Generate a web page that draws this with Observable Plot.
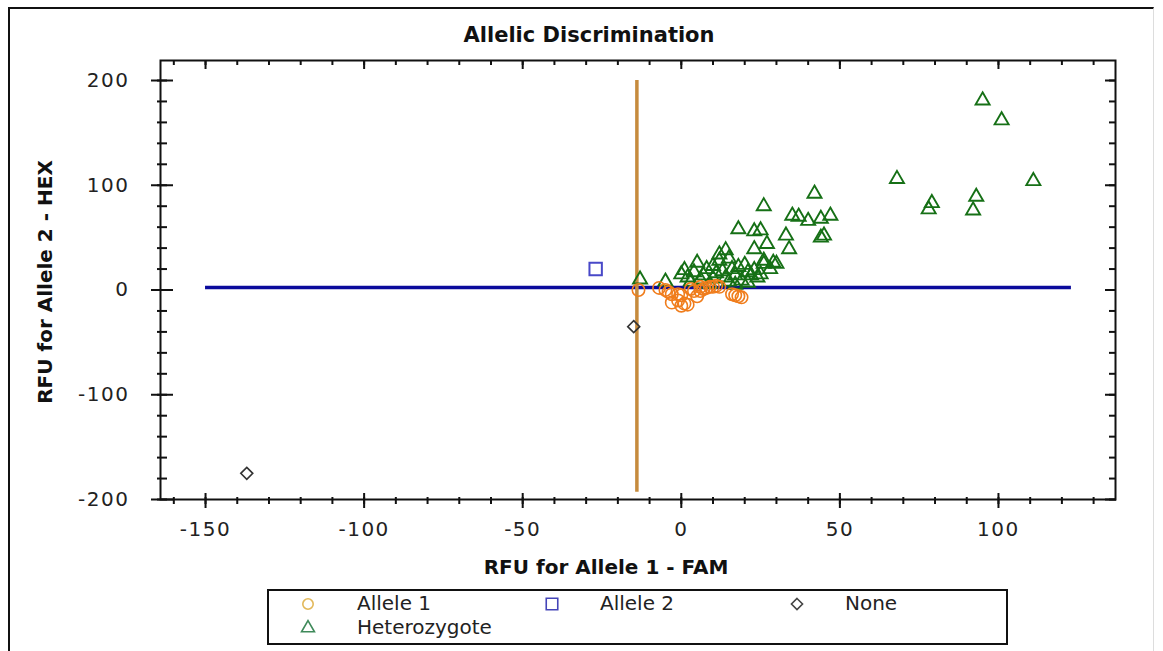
<!DOCTYPE html>
<html><head><meta charset="utf-8">
<script src="https://cdn.jsdelivr.net/npm/d3@7"></script>
<script src="https://cdn.jsdelivr.net/npm/@observablehq/plot@0.6"></script>
<style>
html,body{margin:0;padding:0;background:#fff;}
#wrap{position:relative;width:1163px;height:651px;overflow:hidden;font-family:"DejaVu Sans",sans-serif;color:#111;}
#wrap svg.plot{position:absolute;left:0;top:0;}
#wrap svg.plot g[aria-label$="tick label"] text{letter-spacing:1.5px;}
.border{position:absolute;left:8px;top:7px;width:1146px;height:650px;border-top:2px solid #111;border-left:2px solid #111;border-right:1px solid #ddd;box-sizing:border-box;}
.title{position:absolute;left:339px;width:500px;top:25px;text-align:center;font-weight:bold;font-size:21px;line-height:21px;}
.xtitle{position:absolute;left:406px;width:400px;top:557px;text-align:center;font-weight:bold;font-size:20px;line-height:20px;}
.ytitle{position:absolute;left:-105px;width:300px;top:272px;height:20px;text-align:center;font-weight:bold;font-size:20px;line-height:20px;transform:rotate(-90deg);transform-origin:50% 50%;}
.legend{position:absolute;left:267px;top:589px;width:741px;height:56px;border:2px solid #111;box-sizing:border-box;}
.li{position:absolute;font-size:20px;line-height:20px;white-space:nowrap;color:#222;}
.ls{position:absolute;}
</style></head><body><div id="wrap"><div class="border"></div></div>
<script>
// ---- data ----
const allele1X = [-13.5, -5, -7, -4, -3, -1, 0, -3, -1, 1, 0, 2, 3, 4, 5, 6, 6, 7, 8, 9, 10, 11, 12, 16, 17, 19, 18];
const allele1Y = [0, 0, 2, -2, -4, -4, -5, -12, -10, -13, -15, -14, 1, -1, -6, 3, -1, 1, 2, 3, 3, 4, 3, -4, -5, -7, -6];

const heteroX = [95, 101, 68, 111, 79, 78, 93, 92,
  42, 26, 35, 37, 40, 44, 47, 44, 45, 18, 23, 25, 33, 27, 23, 34, 14, 26, 30,
  -13, -5, 1, 5, 2, 0, 10, 12, 15, 12, 18, 21, 23, 26, 29, 17, 10, 7, 19, 14, 21, 8, 4, 24, 16, 20, 13, 9, 15, 22, 6, 11, 3, 17, 25, 28];
const heteroY = [181, 162, 106, 104, 83, 77, 89, 76,
  92, 80, 71, 70, 66, 68, 71, 50, 52, 58, 56, 57, 52, 44, 39, 39, 38, 25, 25,
  10, 8, 19, 26, 12, 15, 23, 28, 30, 34, 22, 17, 19, 28, 26, 14, 11, 14, 9, 12, 7, 20, 17, 12, 20, 24, 18, 6, 8, 14, 10, 16, 8, 5, 15, 20];

const allele2X = [-27];
const allele2Y = [20];

const noneX = [-137, -15];
const noneY = [-175, -35];

// threshold lines
const hetThresholdY = [2.5];
const hetThresholdXRange = [-150, 123];
const allele1ThresholdX = [-14];
const allele1ThresholdYRange = [-193, 200];

// axes
const xDomain = [-164.2, 136.9];
const yDomain = [-200, 219.1];
const xMajorTicks = [-150, -100, -50, 0, 50, 100];
const xMinorTicks = [-160, -150, -140, -130, -120, -110, -100, -90, -80, -70, -60, -50, -40, -30, -20, -10, 0, 10, 20, 30, 40, 50, 60, 70, 80, 90, 100, 110, 120, 130];
const yMajorTicks = [-200, -100, 0, 100, 200];
const yMinorTicks = [-200, -180, -160, -140, -120, -100, -80, -60, -40, -20, 0, 20, 40, 60, 80, 100, 120, 140, 160, 180, 200];

const titleText = "Allelic Discrimination";
const xTitle = "RFU for Allele 1 - FAM";
const yTitle = "RFU for Allele 2 - HEX";
const legendNames = ["Allele 1", "Allele 2", "None", "Heterozygote"];

// ---- build tables ----
const zip = (xs, ys) => xs.map((x, i) => ({x, y: ys[i]}));
const allele1 = zip(allele1X, allele1Y);
const hetero = zip(heteroX, heteroY);
const allele2 = zip(allele2X, allele2Y);
const none = zip(noneX, noneY);
const hLine = hetThresholdY.map(y => ({y, x1: hetThresholdXRange[0], x2: hetThresholdXRange[1]}));
const vLine = allele1ThresholdX.map(x => ({x, y1: allele1ThresholdYRange[0], y2: allele1ThresholdYRange[1]}));

const C = {a1: "#f07d1c", het: "#167016", a2: "#4848c8", none: "#333333", h: "#0a0a9c", v: "#c68b3d"};
const blank = () => "";
const tickStyle = {stroke: "#111", strokeWidth: 2, label: null, tickFormat: blank};

const chart = Plot.plot({
  width: 1163, height: 651,
  marginLeft: 160, marginRight: 48, marginTop: 60, marginBottom: 152,
  x: {domain: xDomain},
  y: {domain: yDomain},
  style: {fontFamily: "DejaVu Sans", fontSize: "20px", background: "transparent", color: "#222", overflow: "visible"},
  marks: [
    Plot.ruleY(hLine, {y: "y", x1: "x1", x2: "x2", stroke: C.h, strokeWidth: 3.5}),
    Plot.ruleX(vLine, {x: "x", y1: "y1", y2: "y2", stroke: C.v, strokeWidth: 3.5}),
    Plot.dot(hetero, {x: "x", y: "y", symbol: "triangle", r: 5.2, stroke: C.het, strokeWidth: 1.9, fill: "none"}),
    Plot.dot(allele1, {x: "x", y: "y", symbol: "circle", r: 6.2, stroke: C.a1, strokeWidth: 1.6, fill: "none"}),
    Plot.dot(allele2, {x: "x", y: "y", symbol: "square", r: 7, stroke: C.a2, strokeWidth: 2, fill: "none"}),
    Plot.dot(none, {x: "x", y: "y", symbol: "diamond2", r: 5.4, stroke: C.none, strokeWidth: 1.6, fill: "none"}),
    // bottom axis
    Plot.axisX({...tickStyle, anchor: "bottom", ticks: xMinorTicks, tickSize: 7, dy: -2}),
    Plot.axisX({...tickStyle, anchor: "bottom", ticks: xMajorTicks, tickSize: 15, dy: -6}),
    Plot.axisX({anchor: "bottom", ticks: xMajorTicks, tickSize: 0, tickPadding: 22, fontSize: 20, fill: "#222", label: null, tickFormat: d => String(d)}),
    // top axis
    Plot.axisX({...tickStyle, anchor: "top", ticks: xMinorTicks, tickSize: 5, dy: 4}),
    Plot.axisX({...tickStyle, anchor: "top", ticks: xMajorTicks, tickSize: 9, dy: 8}),
    // left axis
    Plot.axisY({...tickStyle, anchor: "left", ticks: yMinorTicks, tickSize: 10, dx: 7}),
    Plot.axisY({...tickStyle, anchor: "left", ticks: yMajorTicks, tickSize: 22, dx: 13}),
    Plot.axisY({anchor: "left", ticks: yMajorTicks, tickSize: 0, tickPadding: 31, fontSize: 20, fill: "#222", label: null, tickFormat: d => String(d)}),
    // right axis
    Plot.axisY({...tickStyle, anchor: "right", ticks: yMinorTicks, tickSize: 7, dx: -7}),
    Plot.axisY({...tickStyle, anchor: "right", ticks: yMajorTicks, tickSize: 11, dx: -11}),
    Plot.frame({stroke: "#111", strokeWidth: 2})
  ]
});
chart.classList.add("plot");
const wrap = document.getElementById("wrap");
wrap.appendChild(chart);

function addDiv(cls, text) {
  const d = document.createElement("div");
  d.className = cls; d.textContent = text; wrap.appendChild(d); return d;
}
addDiv("title", titleText);
addDiv("xtitle", xTitle);
addDiv("ytitle", yTitle);

// legend
const legend = document.createElement("div");
legend.className = "legend";
wrap.appendChild(legend);
const lx = 267, ly = 589;
const legendItems = [
  {name: legendNames[0], sym: d3.symbolCircle, r: 5.2, color: "#e2b85a", sx: 308, sy: 604, tx: 357},
  {name: legendNames[1], sym: d3.symbolSquare, r: 6.5, color: "#4444b8", sx: 552, sy: 604, tx: 600},
  {name: legendNames[2], sym: d3.symbolDiamond2, r: 5, color: "#444", sx: 797, sy: 604, tx: 845},
  {name: legendNames[3], sym: d3.symbolTriangle, r: 4.8, color: "#3f8a5a", sx: 308, sy: 628, tx: 357}
];
for (const it of legendItems) {
  const s = document.createElementNS("http://www.w3.org/2000/svg", "svg");
  s.setAttribute("width", 20); s.setAttribute("height", 20);
  s.setAttribute("class", "ls");
  s.style.left = (it.sx - lx - 2 - 10) + "px";
  s.style.top = (it.sy - ly - 2 - 10) + "px";
  const p = document.createElementNS("http://www.w3.org/2000/svg", "path");
  p.setAttribute("d", d3.symbol(it.sym, Math.PI * it.r * it.r)());
  p.setAttribute("transform", "translate(10,10)");
  p.setAttribute("fill", "none");
  p.setAttribute("stroke", it.color);
  p.setAttribute("stroke-width", 1.6);
  s.appendChild(p);
  legend.appendChild(s);
  const t = document.createElement("div");
  t.className = "li"; t.textContent = it.name;
  t.style.left = (it.tx - lx - 2) + "px";
  t.style.top = (it.sy - ly - 2 - 11) + "px";
  legend.appendChild(t);
}
</script>
</body></html>
